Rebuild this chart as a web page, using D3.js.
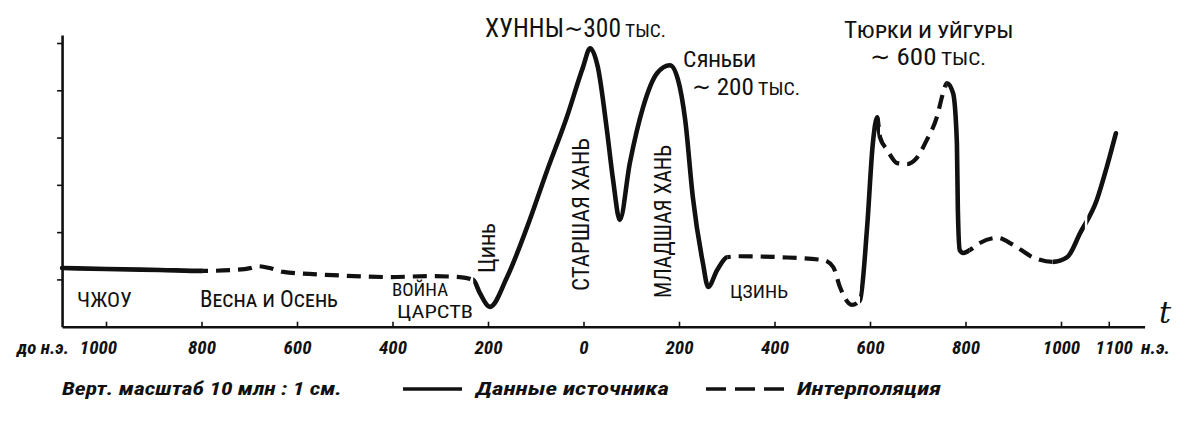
<!DOCTYPE html>
<html>
<head>
<meta charset="utf-8">
<script src="https://cdn.jsdelivr.net/npm/d3@7"></script>
<style>
  html, body { margin: 0; padding: 0; background: #fff; }
  svg { display: block; }
</style>
</head>
<body>
<svg id="chart" width="1182" height="423"></svg>
<script>
// ---------------- DATA ----------------
// Year (negative = BC) and population (millions)
const years = [-1092, -1000, -887, -797, -734, -698, -682, -657, -629, -525, -405, -321, -259, -231,
  -217, -196, -160, -118, -76, -35, -1, 14, 30, 49, 62, 76, 97, 125, 154, 181, 198, 213, 229, 250,
  261, 280, 301, 328, 412, 502, 523, 537, 562, 579, 594, 606, 615, 621, 636, 657, 678, 698, 719,
  740, 753, 761, 774, 782, 784, 788, 795, 809, 830, 866, 900, 941, 983, 1013, 1040, 1075, 1096, 1115];
const population = [12.4, 12.2, 12.0, 11.8, 12.0, 12.4, 12.8, 12.4, 11.6, 10.9, 10.5, 10.7, 10.5, 9.9,
  7.1, 4.2, 10.5, 21.1, 33.1, 44.3, 54.9, 58.9, 54.9, 41.6, 31.0, 22.6, 34.6, 46.5, 53.6, 55.3, 52.2,
  43.7, 27.4, 13.5, 8.4, 12.0, 14.7, 14.9, 14.7, 14.1, 12.6, 8.4, 4.6, 5.6, 21.1, 38.8, 44.3, 40.1,
  37.4, 34.6, 34.4, 35.7, 39.5, 44.3, 49.4, 51.5, 49.4, 38.8, 24.7, 16.2, 15.6, 16.2, 17.7, 18.8,
  17.3, 14.7, 13.7, 14.7, 19.8, 26.8, 33.8, 40.9];
// Year ranges drawn as interpolation (dashed)
const interpolatedRanges = [[-797, -231], [301, 579], [621, 761], [809, 983]];
// Short breaks in the line
const breakRanges = [[1050, 1055]];
// Axis ticks
const xTickValues = [-1000, -800, -600, -400, -200, 0, 200, 400, 600, 800, 1000, 1100];
const xTickLabels = ["1000", "800", "600", "400", "200", "0", "200", "400", "600", "800", "1000", "1100"];
const yTickValues = [10, 20, 30, 40, 50, 60];
// Texts
const eraBefore = "до н.э.";
const eraAfter = "н.э.";
const timeSymbol = "t";
const legendScale = "Верт. масштаб 10 млн : 1 см.";
const legendSource = "Данные источника";
const legendInterp = "Интерполяция";

// ---------------- CHART ----------------
const svg = d3.select("#chart");
const ink = "#111";
const labelFont = "'Liberation Sans Narrow','Roboto Condensed','DejaVu Sans Condensed','Roboto','Liberation Sans',sans-serif";

const x = d3.scaleLinear().domain([-1000, 1000]).range([106, 1061]);
const y = d3.scaleLinear().domain([0, 60]).range([326.7, 43]);

const xStart = -1092, xEnd = 1175, yTop = 61.7;

// Axes
const xAxisScale = d3.scaleLinear().domain([xStart, xEnd]).range([x(xStart), x(xEnd)]);
const xAxis = d3.axisBottom(xAxisScale)
  .tickValues(xTickValues)
  .tickSizeInner(-5).tickSizeOuter(0)
  .tickFormat((d, i) => xTickLabels[i]);
const gx = svg.append("g").attr("transform", `translate(0,${y(0)})`).call(xAxis);
gx.select(".domain").attr("stroke", ink).attr("stroke-width", 2.4);
gx.selectAll(".tick line").attr("stroke", ink).attr("stroke-width", 1.6);
gx.selectAll(".tick text")
  .attr("y", 27).attr("dy", 0)
  .attr("fill", ink)
  .style("font-family", labelFont)
  .style("font-style", "italic")
  .style("font-weight", "bold")
  .style("font-size", "19px");
gx.selectAll(".tick text").filter(d => d === -1000).attr("x", -8);
gx.selectAll(".tick text").filter(d => d === 1100).attr("x", 5);

const yAxisScale = d3.scaleLinear().domain([0, yTop]).range([y(0), y(yTop)]);
const yAxis = d3.axisLeft(yAxisScale).tickValues(yTickValues).tickSizeInner(5).tickSizeOuter(0).tickFormat("");
const gy = svg.append("g").attr("transform", `translate(${x(xStart)},0)`).call(yAxis);
gy.select(".domain").attr("stroke", ink).attr("stroke-width", 2.6);
gy.selectAll(".tick line").attr("stroke", ink).attr("stroke-width", 1.6);

// Era labels and t
svg.append("text").attr("x", 17).attr("y", y(0) + 27).text(eraBefore)
  .attr("fill", ink).style("font-family", labelFont).style("font-style", "italic")
  .style("font-weight", "bold").style("font-size", "19px")
  .attr("textLength", 52).attr("lengthAdjust", "spacingAndGlyphs");
svg.append("text").attr("x", 1141).attr("y", y(0) + 27).text(eraAfter)
  .attr("fill", ink).style("font-family", labelFont).style("font-style", "italic")
  .style("font-weight", "bold").style("font-size", "19px")
  .attr("textLength", 29).attr("lengthAdjust", "spacingAndGlyphs");
svg.append("text").attr("x", 1159).attr("y", y(0) - 4).text(timeSymbol)
  .attr("fill", ink).style("font-family", "'DejaVu Serif',serif").style("font-style", "italic")
  .style("font-size", "30px");

// Clip paths for solid / dashed parts
const defs = svg.append("defs");
const solidClip = defs.append("clipPath").attr("id", "solidClip");
const dashClip = defs.append("clipPath").attr("id", "dashClip");
const cuts = interpolatedRanges.concat(breakRanges).sort((a, b) => a[0] - b[0]);
let prev = xStart - 20;
const solidRanges = [];
cuts.forEach(r => { solidRanges.push([prev, r[0]]); prev = r[1]; });
solidRanges.push([prev, xEnd]);
solidClip.selectAll("rect").data(solidRanges).join("rect")
  .attr("x", d => x(d[0])).attr("width", d => x(d[1]) - x(d[0]))
  .attr("y", 0).attr("height", 423);
dashClip.selectAll("rect").data(interpolatedRanges).join("rect")
  .attr("x", d => x(d[0])).attr("width", d => x(d[1]) - x(d[0]))
  .attr("y", 0).attr("height", 423);

const pts = years.map((yr, i) => [yr, population[i]]);
const line = d3.line().x(d => x(d[0])).y(d => y(d[1])).curve(d3.curveMonotoneX);

svg.append("path").attr("d", line(pts))
  .attr("fill", "none").attr("stroke", ink).attr("stroke-width", 4.6)
  .attr("stroke-linejoin", "round").attr("stroke-linecap", "round")
  .attr("clip-path", "url(#solidClip)");
svg.append("path").attr("d", line(pts))
  .attr("fill", "none").attr("stroke", ink).attr("stroke-width", 4.2)
  .attr("stroke-dasharray", "14,8")
  .attr("clip-path", "url(#dashClip)");

// Labels
function label(txt, x0, yb, size, len, opts = {}) {
  const t = svg.append("text")
    .attr("x", x0).attr("y", yb)
    .attr("fill", ink)
    .style("font-family", labelFont)
    .style("font-size", size + "px");
  if (opts.smallCaps) t.style("font-variant", "small-caps");
  if (opts.rotate) t.attr("transform", `rotate(-90,${x0},${yb})`);
  if (Array.isArray(txt)) {
    txt.forEach(p => {
      const s = t.append("tspan").text(p[0]);
      if (p[1]) s.style("font-size", p[1] + "px");
    });
  } else {
    t.text(txt);
  }
  if (len) t.attr("textLength", len).attr("lengthAdjust", "spacingAndGlyphs");
  return t;
}

label("ЧЖОУ", 77, 307, 20, 55);
label("Весна и Осень", 200, 307, 23, 138, { smallCaps: true });
label("ВОЙНА", 392, 296, 18, 56);
label("ЦАРСТВ", 397, 318, 18, 76);
label("Цинь", 495, 273, 23, 50, { smallCaps: true, rotate: true });
label("СТАРШАЯ ХАНЬ", 589, 291, 24, 153, { rotate: true });
label("МЛАДШАЯ ХАНЬ", 671, 298, 23, 153, { rotate: true });
label("ЦЗИНЬ", 730, 298, 18, 58);
label([["ХУННЫ"], ["∼"], ["300"], [" ТЫС.", 19]], 485, 37, 25, 181);
label("Сяньби", 683, 67, 22, 73, { smallCaps: true });
label([["∼ "], ["200"], [" ТЫС.", 19]], 692, 95, 24, 108);
label("Тюрки и уйгуры", 844, 38, 23, 169, { smallCaps: true });
label([["∼ "], ["600"], [" ТЫС.", 19]], 870, 65, 24, 116);

// Legend
const legY = 395;
function legendText(txt, x0, len) {
  svg.append("text").attr("x", x0).attr("y", legY).text(txt)
    .attr("fill", ink).style("font-family", labelFont).style("font-style", "italic")
    .style("font-weight", "bold").style("font-size", "19px")
    .attr("textLength", len).attr("lengthAdjust", "spacingAndGlyphs");
}
legendText(legendScale, 62, 280);
svg.append("line").attr("x1", 403).attr("x2", 462).attr("y1", legY - 6).attr("y2", legY - 6)
  .attr("stroke", ink).attr("stroke-width", 3.4);
legendText(legendSource, 476, 193);
svg.append("line").attr("x1", 706).attr("x2", 784).attr("y1", legY - 6).attr("y2", legY - 6)
  .attr("stroke", ink).attr("stroke-width", 3.4).attr("stroke-dasharray", "20,9");
legendText(legendInterp, 797, 144);
</script>
</body>
</html>
